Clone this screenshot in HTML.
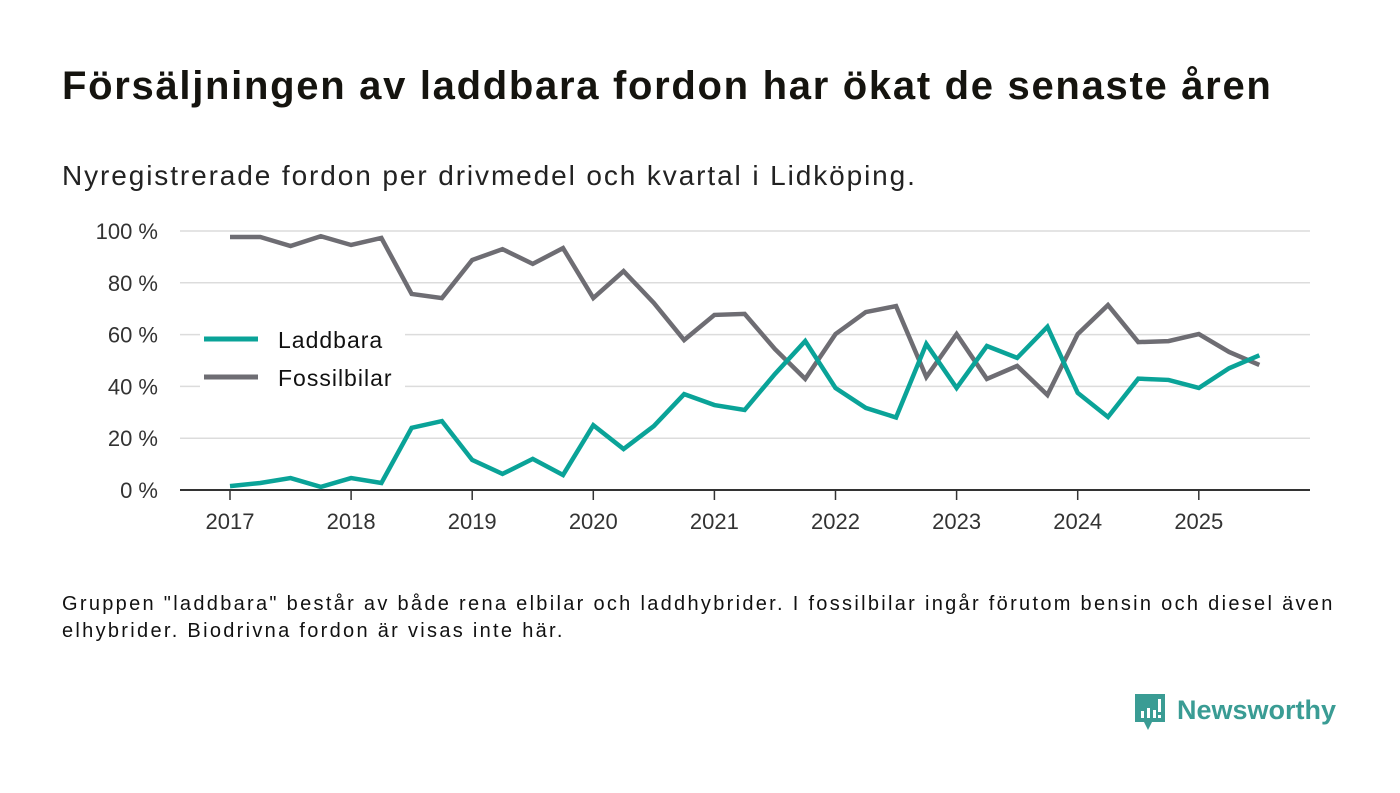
<!DOCTYPE html>
<html><head><meta charset="utf-8">
<style>
body{margin:0;width:1400px;height:793px;background:#fff;font-family:"Liberation Sans","DejaVu Sans",sans-serif;color:#111;position:relative;overflow:hidden}
.t{position:absolute;left:62px;top:64px;font-size:40px;font-weight:bold;color:#15140f;letter-spacing:1.7px;white-space:nowrap}
.s{position:absolute;left:62px;top:160px;font-size:28px;color:#222;letter-spacing:1.9px;white-space:nowrap}
.f{position:absolute;left:62px;top:591px;font-size:20px;line-height:27px;color:#111;width:1330px;letter-spacing:2.3px;white-space:nowrap}
svg{position:absolute;left:0;top:0}
</style></head><body>
<div class="t">Försäljningen av laddbara fordon har ökat de senaste åren</div>
<div class="s">Nyregistrerade fordon per drivmedel och kvartal i Lidköping.</div>
<svg id="c" width="1400" height="793"></svg>
<div class="f">Gruppen "laddbara" består av både rena elbilar och laddhybrider. I fossilbilar ingår förutom bensin och diesel även<br>elhybrider. Biodrivna fordon är visas inte här.</div>
<svg width="1400" height="793" style="pointer-events:none">
<path d="M1135 694h30v28h-13l-4 8-4-8h-9z" fill="#3a9c94"/>
<rect x="1141" y="711" width="3" height="7" fill="#fff"/><rect x="1147" y="708" width="3" height="10" fill="#fff"/><rect x="1153" y="710" width="3" height="8" fill="#fff"/><rect x="1158" y="699" width="3" height="13" fill="#fff"/><rect x="1158" y="715" width="3" height="3" fill="#fff"/>
<text x="1177" y="719" font-size="27" font-weight="bold" fill="#3a9c94" font-family="Liberation Sans, sans-serif">Newsworthy</text>
</svg>
<script>
const years=[2017,2018,2019,2020,2021,2022,2023,2024,2025];
const yTicks=[0,20,40,60,80,100];
const yTickLabels=["0 %","20 %","40 %","60 %","80 %","100 %"];
const laddbara=[1.5,2.7,4.6,1.2,4.6,2.7,24,26.6,11.6,6.2,12,5.8,25,15.8,24.7,37,32.8,30.9,44.8,57.5,39.4,31.7,28,56.4,39.4,55.6,51,63,37.5,28.2,43,42.5,39.4,47,52];
const fossil=[97.7,97.7,94.2,98,94.6,97.3,75.7,74.1,88.8,93,87.3,93.4,74.1,84.5,72.2,57.9,67.6,68,54.4,42.9,60.2,68.7,71,43.6,60.2,42.9,47.9,36.7,60.2,71.4,57.1,57.5,60.2,53.3,48.3];
const svg=document.getElementById('c'),NS='http://www.w3.org/2000/svg';
const x=t=>230+(t-2017)*121.1, y=v=>490-v*2.59;
function mk(tag,a){const e=document.createElementNS(NS,tag);for(const k in a)e.setAttribute(k,a[k]);svg.appendChild(e);return e;}
yTicks.forEach((v,i)=>{
 if(v>0){const g=mk('line',{x1:180,x2:1310,y1:y(v),y2:y(v),stroke:'#dcdcdc','stroke-width':1.5});
 
 }
 const t=mk('text',{x:158,y:y(v)+8,'text-anchor':'end','font-size':22,fill:'#333'});t.textContent=yTickLabels[i];
 
 
});
years.forEach(yr=>{
 const l=mk('line',{x1:x(yr),x2:x(yr),y1:490,y2:500,stroke:'#333','stroke-width':1.5});
 
 
 const t=mk('text',{x:x(yr),y:529,'text-anchor':'middle','font-size':22,fill:'#333'});t.textContent=yr;
 
 
});
const ax=mk('line',{x1:180,x2:1310,y1:490,y2:490,stroke:'#333','stroke-width':2});


const lb=mk('rect',{x:200,y:328,width:205,height:70,fill:'#fff'});


function line(d,col,name){
 const p=mk('polyline',{points:d.map((v,i)=>x(2017+i/4)+','+y(v)).join(' '),fill:'none',stroke:col,'stroke-width':4.5,'stroke-linejoin':'miter'});
 
 
}
line(fossil,'#6e6d73','fossil-line');
line(laddbara,'#0aa398','laddbara-line');
[['Laddbara','#0aa398',339],['Fossilbilar','#6e6d73',377]].forEach(([n,c,yy])=>{
 const l=mk('line',{x1:204,x2:258,y1:yy,y2:yy,stroke:c,'stroke-width':5});
 
 
 const t=mk('text',{x:278,y:yy+9,'font-size':23,fill:'#111','letter-spacing':1});t.textContent=n;
 
 
});
</script>
</body></html>
